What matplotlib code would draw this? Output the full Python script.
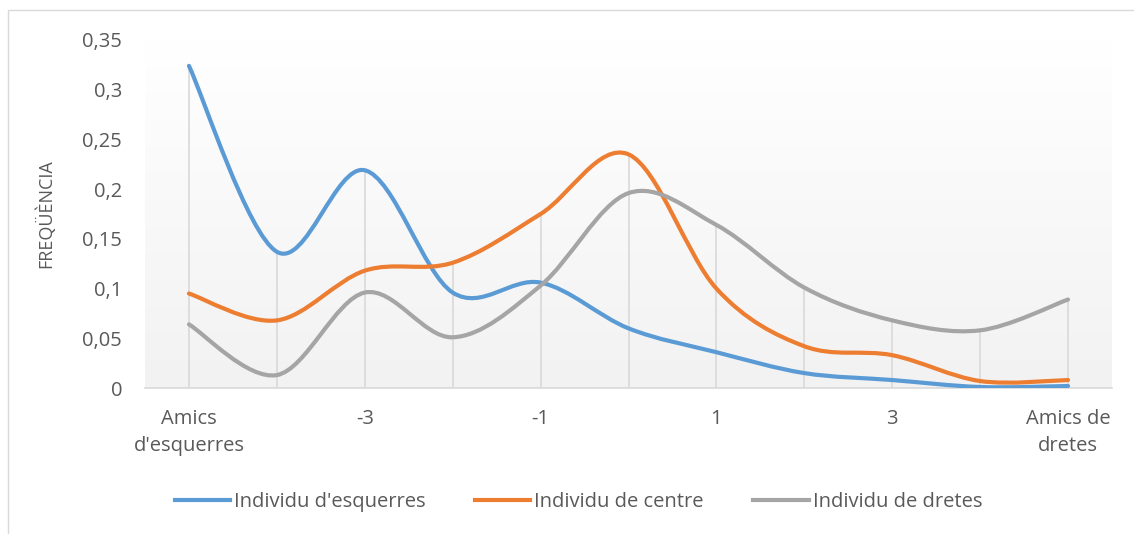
import numpy as np
import matplotlib
matplotlib.use("Agg")
import matplotlib.pyplot as plt
from matplotlib.path import Path
from matplotlib.patches import PathPatch, Rectangle
from matplotlib.lines import Line2D
from matplotlib.colors import LinearSegmentedColormap

categories = ["Amics\nd'esquerres", "-4", "-3", "-2", "-1", "0", "1", "2", "3", "4", "Amics de\ndretes"]
esquerres = [0.324, 0.137, 0.219, 0.096, 0.106, 0.060, 0.036, 0.015, 0.008, 0.001, 0.002]
centre    = [0.095, 0.068, 0.118, 0.126, 0.175, 0.235, 0.100, 0.042, 0.033, 0.007, 0.008]
dretes    = [0.064, 0.013, 0.096, 0.051, 0.103, 0.196, 0.164, 0.101, 0.068, 0.058, 0.089]
series_names = ["Individu d'esquerres", "Individu de centre", "Individu de dretes"]
colors = ["#5B9BD5", "#ED7D31", "#A5A5A5"]
yticks = [0, 0.05, 0.1, 0.15, 0.2, 0.25, 0.3, 0.35]
ytick_labels = ["0", "0,05", "0,1", "0,15", "0,2", "0,25", "0,3", "0,35"]

plt.rcParams['font.family'] = ['Open Sans', 'DejaVu Sans']
text_color = "#595959"

fig = plt.figure(figsize=(11.34, 5.34), dpi=100)
fig.patches.append(Rectangle((8/1134, -0.1), 1.2, 1 - 10/534 + 0.1, transform=fig.transFigure,
                             fill=False, edgecolor="#D9D9D9", linewidth=1.0))
ax = fig.add_axes([145/1134, (534-388)/534, (1112-145)/1134, (388-40)/534])
ax.set_facecolor("none")

# gradient background: white at top to light gray at bottom
grad = np.linspace(0, 1, 256).reshape(-1, 1)
cmap = LinearSegmentedColormap.from_list("g", ["#F2F2F2", "#FFFFFF"])
ax.imshow(grad, extent=[0, 1, 0, 1], transform=ax.transAxes, cmap=cmap, aspect="auto",
          origin="lower", zorder=0)

x = np.arange(len(categories))

# drop lines
tops = np.max(np.array([esquerres, centre, dretes]), axis=0)
ax.vlines(x, 0, tops, colors="#D9D9D9", linewidth=1.2, zorder=1)

def smooth_path(xs, ys):
    pts = np.column_stack([xs, ys]).astype(float)
    n = len(pts)
    verts = [pts[0]]
    codes = [Path.MOVETO]
    for i in range(n - 1):
        p0 = pts[i - 1] if i > 0 else pts[i]
        p1 = pts[i]
        p2 = pts[i + 1]
        p3 = pts[i + 2] if i + 2 < n else pts[i + 1]
        c1 = p1 + (p2 - p0) / 6.0
        c2 = p2 - (p3 - p1) / 6.0
        verts += [c1, c2, p2]
        codes += [Path.CURVE4] * 3
    return Path(verts, codes)

for ys, c in zip([esquerres, centre, dretes], colors):
    patch = PathPatch(smooth_path(x, ys), facecolor="none", edgecolor=c, linewidth=3,
                      capstyle="round", joinstyle="round", zorder=3)
    ax.add_patch(patch)

ax.set_xlim(-0.5, len(categories) - 0.5)
ax.set_ylim(0, 0.35)
ax.set_yticks(yticks)
ax.set_yticklabels(ytick_labels)
ax.set_xticks(x[::2])
ax.set_xticklabels(categories[::2])
ax.tick_params(axis="both", length=0, labelsize=14.5, colors=text_color)
ax.tick_params(axis="y", pad=16.5)
ax.tick_params(axis="x", pad=15)
for lbl in ax.get_xticklabels():
    lbl.set_linespacing(1.45)

for s in ["top", "right", "left"]:
    ax.spines[s].set_visible(False)
ax.spines["bottom"].set_color("#D9D9D9")
ax.spines["bottom"].set_linewidth(1.2)

ax.set_ylabel("FREQÜÈNCIA", fontsize=13, color=text_color)
ax.yaxis.set_label_coords(-0.093, 0.5)

handles = [Line2D([0], [0], color=c, linewidth=3) for c in colors]
leg = fig.legend(handles, series_names, loc="center", bbox_to_anchor=(0.51, (534-502)/534),
                 ncol=3, frameon=False, fontsize=14.5, handlelength=2.75, handletextpad=0.2,
                 columnspacing=2.45)
for t in leg.get_texts():
    t.set_color(text_color)

fig.savefig("out.png", dpi=100)
